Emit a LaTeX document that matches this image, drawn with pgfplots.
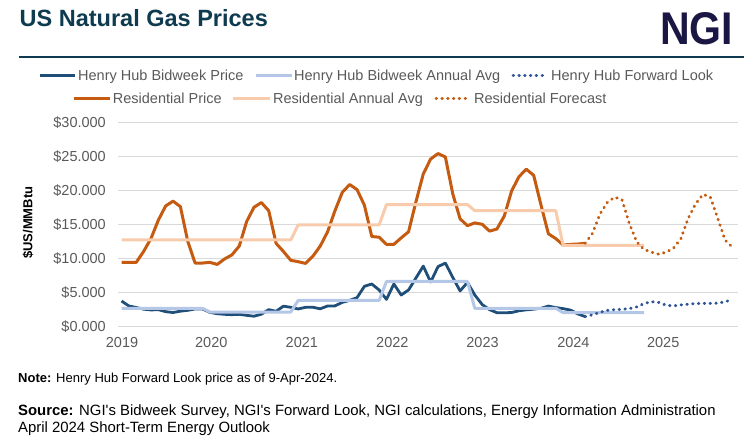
\documentclass[border=0pt]{standalone}
\usepackage{pgfplots}
\pgfplotsset{compat=1.18}
\usepackage{fontspec}
\setmainfont{Liberation Sans}
\definecolor{hhdark}{HTML}{1F4E79}
\definecolor{hhlight}{HTML}{B4C7E7}
\definecolor{hhfwd}{HTML}{2F5597}
\definecolor{resor}{HTML}{C55A11}
\definecolor{respeach}{HTML}{F8CBAD}
\definecolor{titleteal}{HTML}{0E3B4F}
\definecolor{ngiblue}{HTML}{1B1744}
\definecolor{ticktxt}{HTML}{595959}
\definecolor{gridc}{HTML}{D9D9D9}
\newcommand{\lgfont}{\fontsize{14.5bp}{17bp}\selectfont}
\tikzset{dotted line/.style={line width=3bp, line cap=round, dash pattern=on 0.5bp off 5.3bp}}
\begin{document}
\begin{tikzpicture}[x=1bp,y=1bp]
\useasboundingbox (0,0) rectangle (756,443);
% title and logo
\node[anchor=base west, inner sep=0pt, text=titleteal, font=\bfseries\fontsize{23.5bp}{27bp}\selectfont] at (19.5,416) {US Natural Gas Prices};
\node[anchor=south west, inner sep=0pt, text=ngiblue] at (660,398) {\resizebox{73bp}{32bp}{\bfseries NGI}};
\draw[titleteal, line width=2.2bp] (19,386) -- (744,386);
% legend row 1
\draw[hhdark, line width=3bp] (40,367.7) -- (75,367.7);
\node[anchor=base west, inner sep=0pt, text=ticktxt, font=\lgfont] at (78,362.7) {Henry Hub Bidweek Price};
\draw[hhlight, line width=3bp] (256,367.7) -- (291.7,367.7);
\node[anchor=base west, inner sep=0pt, text=ticktxt, font=\lgfont] at (294,362.7) {Henry Hub Bidweek Annual Avg};
\draw[hhfwd, dotted line] (513,367.7) -- (545,367.7);
\node[anchor=base west, inner sep=0pt, text=ticktxt, font=\lgfont] at (551,362.7) {Henry Hub Forward Look};
% legend row 2
\draw[resor, line width=3bp] (74,344.3) -- (110,344.3);
\node[anchor=base west, inner sep=0pt, text=ticktxt, font=\lgfont] at (112.7,339.3) {Residential Price};
\draw[respeach, line width=3bp] (233.4,344.3) -- (269.5,344.3);
\node[anchor=base west, inner sep=0pt, text=ticktxt, font=\lgfont] at (273,339.3) {Residential Annual Avg};
\draw[resor, dotted line] (436,344.3) -- (468,344.3);
\node[anchor=base west, inner sep=0pt, text=ticktxt, font=\lgfont] at (474,339.3) {Residential Forecast};
% y label
\node[rotate=90, inner sep=0pt, font=\bfseries\fontsize{13bp}{15bp}\selectfont] at (28,220.3) {\$US/MMBtu};
\begin{axis}[
  at={(118bp,116.7bp)}, anchor=south west,
  scale only axis, width=620bp, height=204bp,
  xmin=-0.476, xmax=83.76, ymin=0, ymax=30,
  axis line style={draw=none}, tick style={draw=none},
  ymajorgrids, grid style={gridc, line width=1bp},
  ytick={0,5,10,15,20,25,30},
  yticklabels={\$0.000,\$5.000,\$10.000,\$15.000,\$20.000,\$25.000,\$30.000},
  xtick={0.07,12.2,24.5,36.8,49.05,61.4,73.6},
  xticklabels={2019,2020,2021,2022,2023,2024,2025},
  tick label style={font=\lgfont, text=ticktxt},
  yticklabel style={anchor=east, inner sep=0pt, xshift=-12bp},
  xticklabel style={anchor=north, inner sep=0pt, yshift=-10.5bp},
]
\addplot[hhdark, line width=2.8bp, line join=round] coordinates {
(0,3.72)(1,2.99)(2,2.76)(3,2.52)(4,2.40)(5,2.45)(6,2.15)(7,2.03)(8,2.22)(9,2.35)(10,2.55)(11,2.55)
(12,2.05)(13,1.85)(14,1.76)(15,1.71)(16,1.76)(17,1.61)(18,1.48)(19,1.78)(20,2.45)(21,2.20)(22,2.96)(23,2.79)
(24,2.55)(25,2.79)(26,2.80)(27,2.57)(28,2.99)(29,3.00)(30,3.52)(31,3.82)(32,4.21)(33,5.88)(34,6.22)(35,5.34)
(36,3.96)(37,6.22)(38,4.60)(39,5.34)(40,7.10)(41,8.85)(42,6.50)(43,8.77)(44,9.30)(45,7.20)(46,5.20)(47,6.45)
(48,4.60)(49,3.20)(50,2.45)(51,2.00)(52,1.98)(53,2.03)(54,2.28)(55,2.42)(56,2.52)(57,2.65)(58,2.97)(59,2.75)
(60,2.60)(61,2.38)(62,1.82)(63,1.43)
};
\addplot[hhlight, line width=3bp, line join=round] coordinates {
(0,2.65)(11,2.65)(12,2.1)(23,2.1)(24,3.8)(35,3.8)(36,6.6)(47,6.6)(48,2.65)(59,2.65)(60,2.0)(71,2.0)
};
\addplot[hhfwd, dotted line] coordinates {
(63,1.43)(64,1.70)(65,2.05)(66,2.35)(67,2.45)(68,2.50)(69,2.60)(70,2.85)(71,3.35)(72,3.62)(73,3.50)
(74,3.10)(75,3.00)(76,3.15)(77,3.25)(78,3.35)(79,3.37)(80,3.37)(81,3.40)(82,3.60)(83,3.95)
};
\addplot[resor, line width=3bp, line join=round] coordinates {
(0,9.4)(1,9.4)(2,9.4)(3,11.0)(4,12.9)(5,15.6)(6,17.7)(7,18.4)(8,17.6)(9,12.5)(10,9.3)(11,9.3)
(12,9.4)(13,9.1)(14,9.9)(15,10.5)(16,11.8)(17,15.4)(18,17.5)(19,18.2)(20,17.0)(21,12.2)(22,11.0)(23,9.7)
(24,9.5)(25,9.25)(26,10.3)(27,11.8)(28,13.9)(29,17.0)(30,19.7)(31,20.85)(32,20.1)(33,17.8)(34,13.2)(35,13.1)
(36,12.05)(37,12.05)(38,13.0)(39,13.9)(40,18.3)(41,22.4)(42,24.6)(43,25.4)(44,24.9)(45,19.5)(46,15.8)(47,14.8)
(48,15.2)(49,15.0)(50,14.0)(51,14.3)(52,16.2)(53,19.9)(54,22.0)(55,23.1)(56,22.2)(57,17.8)(58,13.6)(59,12.9)
(60,11.95)(61,12.05)(62,12.1)(63,12.2)
};
\addplot[respeach, line width=3bp, line join=round] coordinates {
(0,12.7)(23,12.7)(24,14.9)(35,14.9)(36,17.9)(47,17.9)(48,17.0)(59,17.0)(60,11.9)(71,11.9)
};
\addplot[resor, dotted line] coordinates {
(63,12.2)(64,13.7)(65,16.5)(66,18.2)(67,19.0)(68,18.6)(69,15.1)(70,12.4)(71,11.3)(72,10.9)(73,10.6)
(74,10.9)(75,11.5)(76,12.9)(77,15.9)(78,18.0)(79,19.4)(80,19.0)(81,15.9)(82,12.7)(83,11.6)
};
\end{axis}
% notes
\node[anchor=base west, inner sep=0pt, font=\fontsize{13bp}{15bp}\selectfont] at (18,60.3) {\textbf{Note:} Henry Hub Forward Look price as of 9-Apr-2024.};
\node[anchor=base west, inner sep=0pt, font=\fontsize{14.9bp}{17bp}\selectfont] at (18,27.6) {\textbf{Source:} NGI\textquotesingle s Bidweek Survey, NGI\textquotesingle s Forward Look, NGI calculations, Energy Information Administration};
\node[anchor=base west, inner sep=0pt, font=\fontsize{14.9bp}{17bp}\selectfont] at (18,10.6) {April 2024 Short-Term Energy Outlook};
\end{tikzpicture}
\end{document}
